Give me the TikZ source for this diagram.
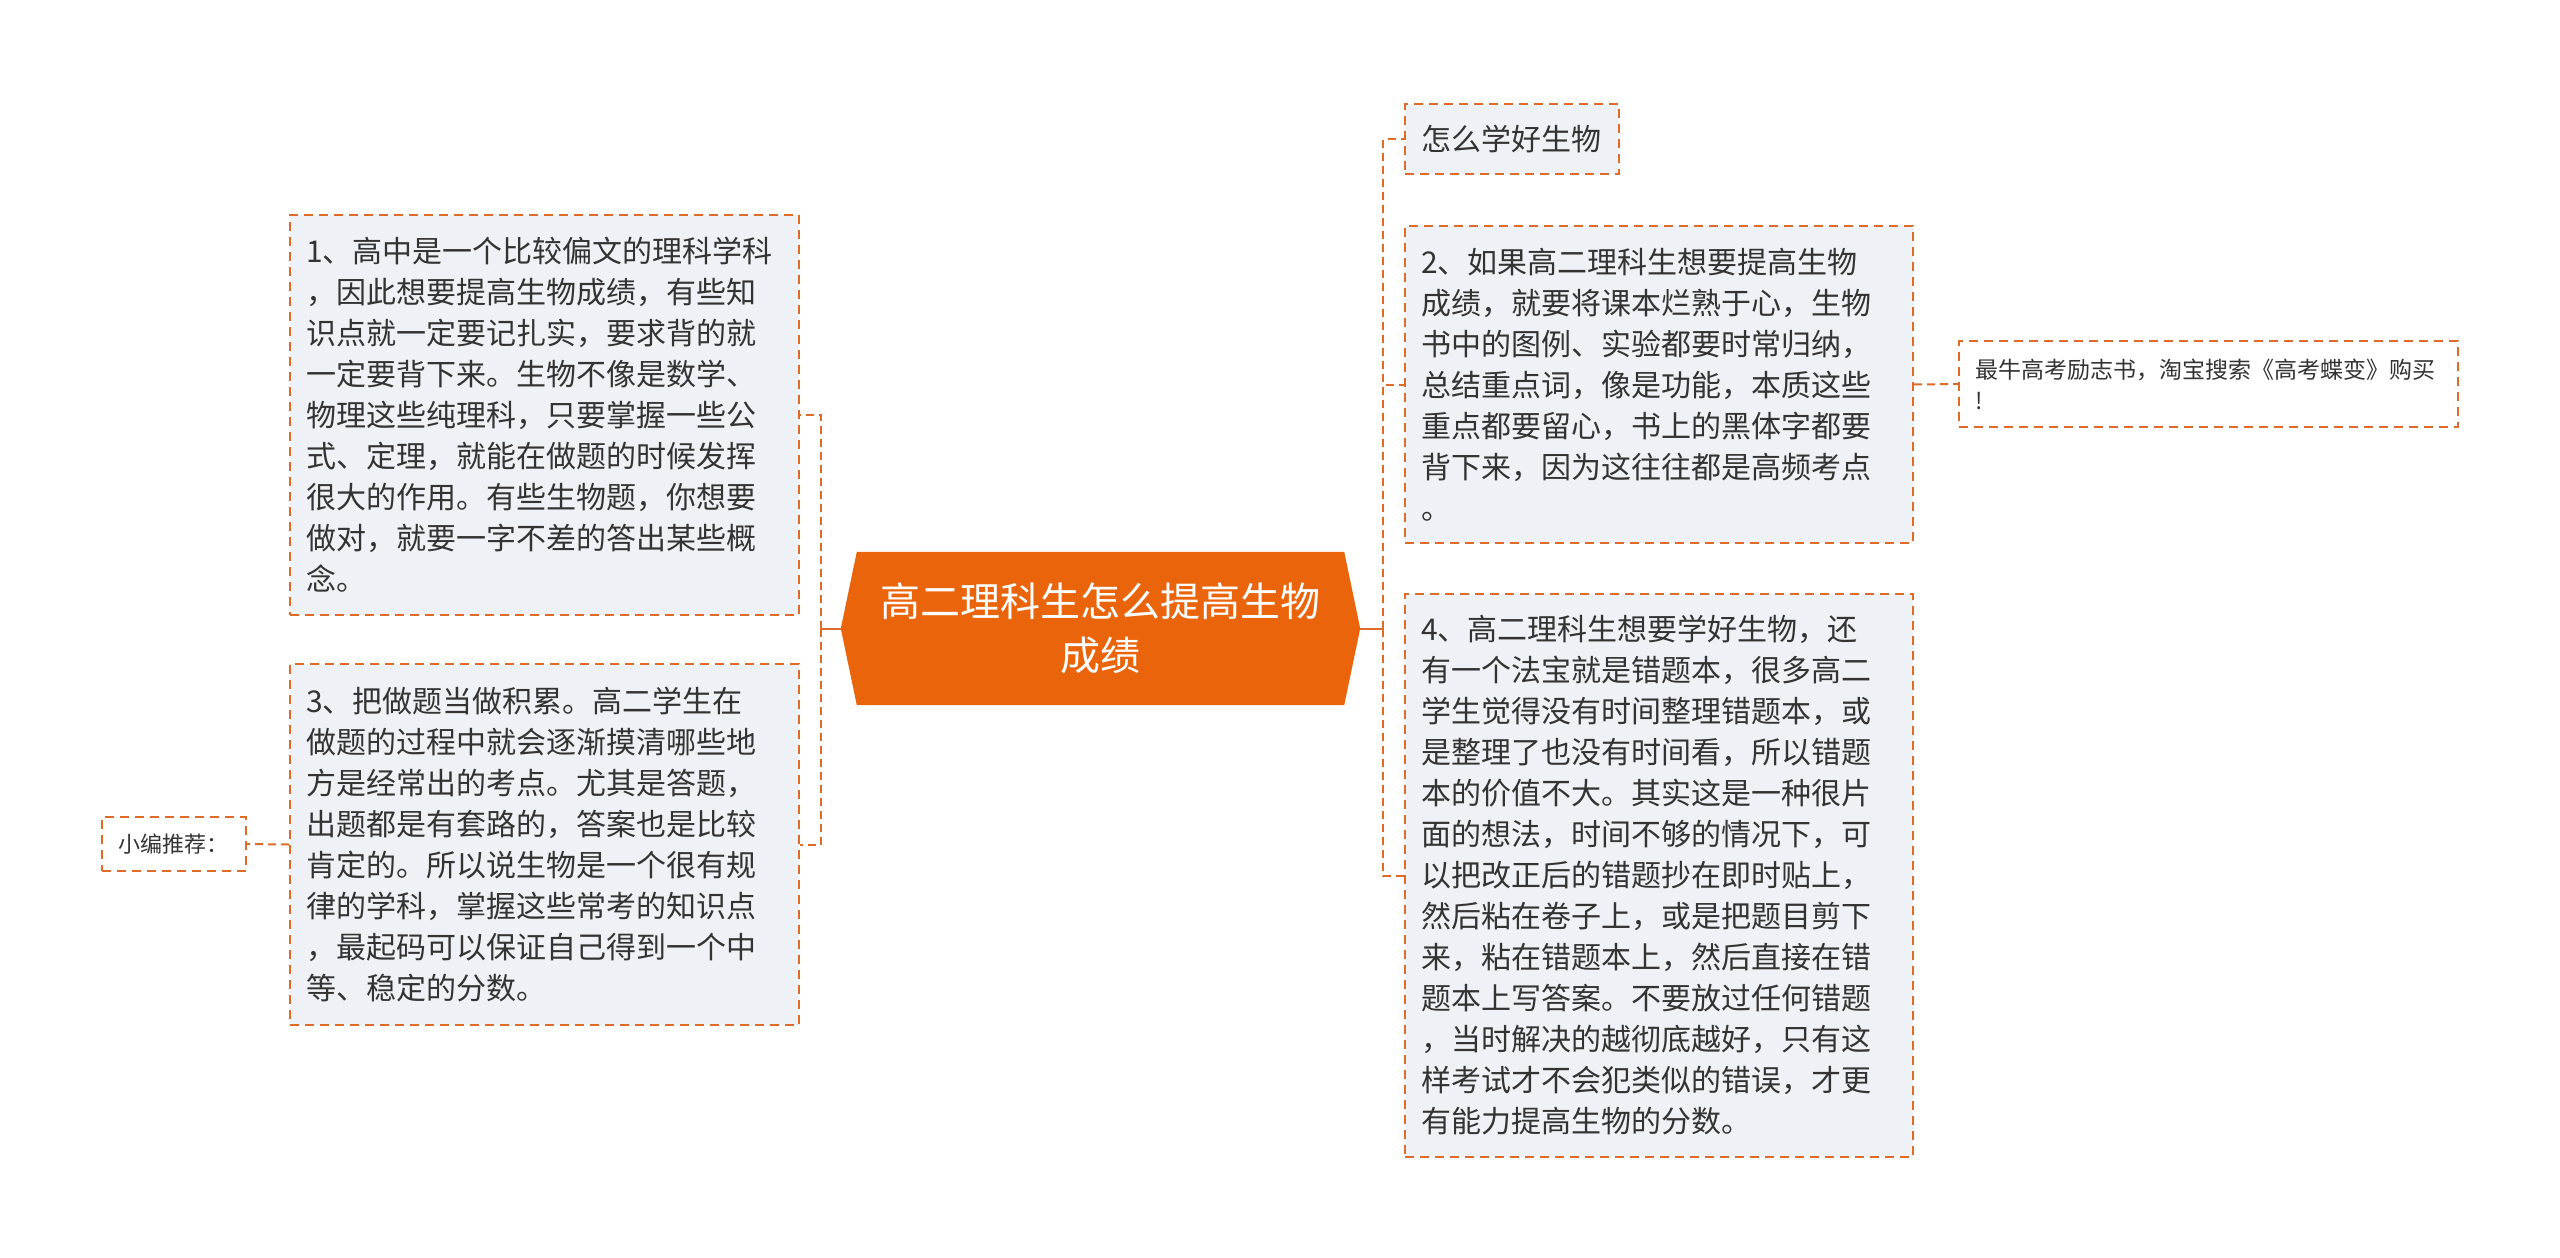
\documentclass[tikz,border=0pt]{standalone}
\usepackage{fontspec}
\setmainfont{Noto Sans CJK SC}
\usetikzlibrary{backgrounds}
\definecolor{lineor}{RGB}{222,108,40}
\definecolor{mainor}{RGB}{234,100,12}
\definecolor{boxfill}{RGB}{238,241,245}
\definecolor{txt}{RGB}{51,51,51}
\begin{document}
\begin{tikzpicture}[x=1pt,y=-1pt,
  box/.style={draw=lineor, line width=2pt, dash pattern=on 9pt off 6pt, fill=boxfill,
    anchor=north west, inner xsep=16pt, inner ysep=0pt, align=left, text=txt,
    font=\fontsize{30}{41}\selectfont},
  leafbox/.style={box, fill=white},
  conn/.style={draw=lineor, line width=2pt},
  dconn/.style={draw=lineor, line width=2pt, dash pattern=on 8pt off 5pt}]
\useasboundingbox (0,0) rectangle (2560,1258);

% central node
\node[minimum width=519pt, minimum height=153pt, inner sep=0pt, text=white, align=center,
  font=\fontsize{40}{54}\selectfont] (c) at (1100.5,628.5) {高二理科生怎么提高生物\\成绩};
\begin{pgfonlayer}{background}
\fill[white] (0,0) rectangle (2560,1258);
\fill[mainor] (c.west) -- ([xshift=16pt]c.north west) -- ([xshift=-16pt]c.north east)
  -- (c.east) -- ([xshift=-16pt]c.south east) -- ([xshift=16pt]c.south west) -- cycle;
\end{pgfonlayer}

% left side
\node[box, minimum width=509pt, minimum height=400pt, text width=477pt] (b1) at (289,214)
{1、高中是一个比较偏文的理科学科\\，因此想要提高生物成绩，有些知\\识点就一定要记扎实，要求背的就\\一定要背下来。生物不像是数学、\\物理这些纯理科，只要掌握一些公\\式、定理，就能在做题的时候发挥\\很大的作用。有些生物题，你想要\\做对，就要一字不差的答出某些概\\念。};
\node[box, minimum width=509pt, minimum height=361pt, text width=477pt] (b3) at (289,663)
{3、把做题当做积累。高二学生在\\做题的过程中就会逐渐摸清哪些地\\方是经常出的考点。尤其是答题，\\出题都是有套路的，答案也是比较\\肯定的。所以说生物是一个很有规\\律的学科，掌握这些常考的知识点\\，最起码可以保证自己得到一个中\\等、稳定的分数。};
\node[leafbox, minimum width=144pt, minimum height=54pt, text width=112pt,
  font=\fontsize{22}{30}\selectfont] (s1) at (101,816) {小编推荐：};

% right side
\node[box, minimum width=214pt, minimum height=70pt, text width=182pt] (t0) at (1404,103) {怎么学好生物};
\node[box, minimum width=508pt, minimum height=317pt, text width=476pt] (b2) at (1404,225)
{2、如果高二理科生想要提高生物\\成绩，就要将课本烂熟于心，生物\\书中的图例、实验都要时常归纳，\\总结重点词，像是功能，本质这些\\重点都要留心，书上的黑体字都要\\背下来，因为这往往都是高频考点\\。};
\node[leafbox, minimum width=499pt, minimum height=86pt, text width=467pt,
  font=\fontsize{23}{31}\selectfont] (r1) at (1958,340) {最牛高考励志书，淘宝搜索《高考蝶变》购买\\!};
\node[box, minimum width=508pt, minimum height=563pt, text width=476pt] (b4) at (1404,593)
{4、高二理科生想要学好生物，还\\有一个法宝就是错题本，很多高二\\学生觉得没有时间整理错题本，或\\是整理了也没有时间看，所以错题\\本的价值不大。其实这是一种很片\\面的想法，时间不够的情况下，可\\以把改正后的错题抄在即时贴上，\\然后粘在卷子上，或是把题目剪下\\来，粘在错题本上，然后直接在错\\题本上写答案。不要放过任何错题\\，当时解决的越彻底越好，只有这\\样考试才不会犯类似的错误，才更\\有能力提高生物的分数。};

% junctions
\coordinate (jl) at (821,628.5);
\coordinate (jr) at (1383,628.5);

% connectors
\draw[conn] (c.west) -- (jl);
\draw[dconn] (jl) |- (b1.east);
\draw[dconn] (jl) |- (b3.east);
\draw[dconn] (b3.west) -- (s1.east);
\draw[conn] (c.east) -- (jr);
\draw[dconn] (jr) |- (t0.west);
\draw[dconn] (jr) |- (b2.west);
\draw[dconn] (jr) |- (b4.west);
\draw[dconn] (b2.east) -- (r1.west);
\end{tikzpicture}
\end{document}
